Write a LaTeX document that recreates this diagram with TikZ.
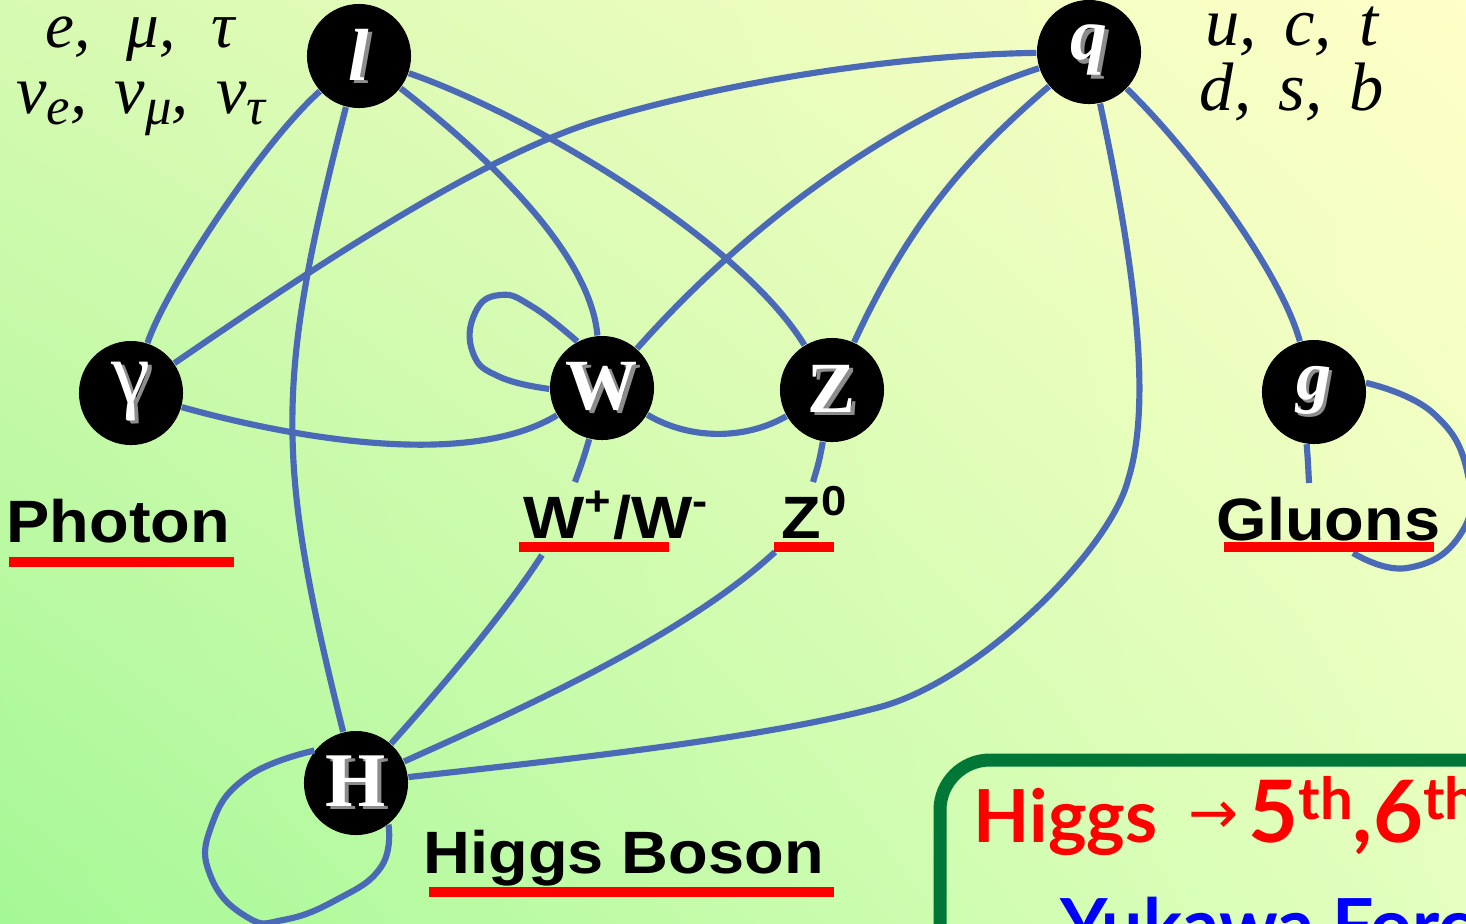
\documentclass[tikz,border=0pt]{standalone}
\usepackage{fontspec}
\usetikzlibrary{shadings}
\setmainfont{Liberation Serif}
\newfontfamily\labelfont{Liberation Sans}
\newfontfamily\boxfont{Lato}
\newfontfamily\arrowfont{DejaVu Sans}

\definecolor{bgUL}{RGB}{215,250,178}
\definecolor{bgUR}{RGB}{255,255,200}
\definecolor{bgLL}{RGB}{165,248,150}
\definecolor{bgLR}{RGB}{228,255,190}
\definecolor{linkblue}{RGB}{74,106,184}
\definecolor{boxgreen}{RGB}{0,118,55}

% white letter with a grey drop shadow
\newcommand{\glyph}[1]{\rlap{\kern1pt\raisebox{-0.9pt}{\textcolor{black!45}{#1}}}\textcolor{white}{#1}}
% lowered index for the neutrino names
\newcommand{\idx}[1]{\raisebox{-3.4pt}{\fontsize{15}{15}\selectfont #1}}

\tikzset{
  particle/.style={circle, fill=black, minimum size=1.04cm, inner sep=0pt},
  link/.style={draw=linkblue, line width=1.75pt},
  tag/.style={anchor=base west, inner sep=0pt, font=\labelfont\bfseries\fontsize{17}{20}\selectfont},
  flavour/.style={anchor=base, inner sep=0pt, text height=0.55em, text depth=0.2em,
                  font=\itshape\fontsize{19.5}{23}\selectfont},
  boxtext/.style={anchor=base west, inner sep=0pt, font=\boxfont\bfseries\fontsize{20.8}{25}\selectfont},
}

\begin{document}
\begin{tikzpicture}[x=0.01cm, y=-0.01cm]
\useasboundingbox (0,0) rectangle (1466,923);
\shade[upper left=bgUL, upper right=bgUR, lower left=bgLL, lower right=bgLR] (0,0) rectangle (1466,923);
\begin{scope}
\clip (0,0) rectangle (1466,923);

% particles
\node[particle] (l)   at (359,56)  {\fontsize{21}{21}\selectfont\bfseries\itshape\glyph{l}};
\node[particle] (q)   at (1089,52) {\fontsize{21}{21}\selectfont\bfseries\itshape\glyph{q}};
\node[particle] (gam) at (131,393) {\fontsize{25}{25}\selectfont\glyph{γ}};
\node[particle] (W)   at (602,388) {\fontsize{20.5}{21}\selectfont\bfseries\glyph{W}};
\node[particle] (Z)   at (832,390) {\fontsize{20.5}{21}\selectfont\bfseries\glyph{Z}};
\node[particle] (g)   at (1314,392){\fontsize{20}{21}\selectfont\bfseries\itshape\glyph{g}};
\node[particle] (H)   at (356,783) {\fontsize{22}{22}\selectfont\bfseries\glyph{H}};

% way points and free ends
\coordinate (gq) at (600,120);
\coordinate (wa) at (575,482);
\coordinate (wb) at (542,555);
\coordinate (za) at (813,482);
\coordinate (zb) at (775,552);
\coordinate (qa) at (1128,480);
\coordinate (qb) at (880,707);
\coordinate (gs) at (1309,483);
\coordinate (gl) at (1353,553);

% couplings
\draw[link] (l) .. controls (260,145) and (165,290) .. (gam);
\draw[link] (l) .. controls (276,380) and (274,456) .. (H);
\draw[link] (l) .. controls (480,150) and (590,250) .. (W);
\draw[link] (l) .. controls (530,115) and (740,240) .. (Z);
\draw[link] (gam) .. controls (310,270) and (480,156) .. (gq) .. controls (730,81) and (900,55) .. (q);
\draw[link] (gam) .. controls (300,440) and (470,468) .. (W);
\draw[link] plot[smooth, tension=0.8] coordinates {(W.118) (533,307) (500,295) (475,313) (473,353) (500,377) (W.181)};
\draw[link] (W) .. controls (760,210) and (910,110) .. (q);
\draw[link] (W) .. controls (690,440) and (745,440) .. (Z);
\draw[link] (W.256) .. controls (583,460) .. (wa);
\draw[link] (wb) .. controls (500,620) and (430,700) .. (H);
\draw[link] (Z.260) .. controls (819,462) .. (za);
\draw[link] (zb) .. controls (685,635) and (530,705) .. (H);
\draw[link] (Z) .. controls (911,219) and (970,154) .. (q);
\draw[link] (q) .. controls (1140,290) and (1150,410) .. (qa)
            .. controls (1110,550) and (980,680) .. (qb)
            .. controls (760,739) and (560,760) .. (H);
\draw[link] (q) .. controls (1190,150) and (1280,270) .. (g);
\draw[link] (g.262) .. controls (1308,462) .. (gs);
\draw[link] plot[smooth, tension=0.8] coordinates {(g.10) (1433,413) (1468,475) (1460,535) (1407,568) (gl)};
\draw[link] plot[smooth, tension=0.8] coordinates {(H.142) (247,777) (211,827) (211,877) (247,917) (283,920) (336,900) (381,867) (H.308)};

% fermion families
\node[flavour, font=\itshape\fontsize{18.5}{22}\selectfont] (lep1) at (140,47)  {e,\hspace{0.55em}μ,\hspace{0.55em}τ};
\node[flavour] (lep2) at (141,113) {ν\idx{e},\hspace{0.4em}ν\idx{μ},\hspace{0.4em}ν\idx{τ}};
\node[flavour] (qk1)  at (1292,45) {u,\hspace{0.4em}c,\hspace{0.4em}t};
\node[flavour] (qk2)  at (1292,110){d,\hspace{0.4em}s,\hspace{0.4em}b};

% boson names
\node[tag] (photon) at (6,542)    {\scalebox{1.085}[1]{Photon}};
\node[tag] (wlab)   at (523,538)  {\scalebox{1.085}[1]{W\textsuperscript{+}/W\textsuperscript{-}}};
\node[tag] (zlab)   at (781,538)  {\scalebox{1.085}[1]{Z\textsuperscript{0}}};
\node[tag] (glab)   at (1216,540) {\scalebox{1.085}[1]{Gluons}};
\node[tag] (hlab)   at (423,873)  {\scalebox{1.085}[1]{Higgs Boson}};

\fill[red] (9,557) rectangle (234,567);
\fill[red] (519,542) rectangle (669,552);
\fill[red] (774,542) rectangle (834,552);
\fill[red] (1224,542) rectangle (1434,552);
\fill[red] (429,887) rectangle (834,897);

% note box
\draw[boxgreen, line width=3.7pt, rounded corners=0.5cm] (940,760) rectangle (1760,1200);
\node[boxtext, text=red] (higgs) at (973,842) {Higgs};
\node[text=red, inner sep=0pt, font=\arrowfont\fontsize{17}{17}\selectfont] (arr) at (1214,818) {→};
\node[boxtext, text=red, font=\boxfont\bfseries\fontsize{24.5}{28}\selectfont] (gen) at (1248,842)
  {5\raisebox{6.3pt}{\fontsize{16.5}{18}\selectfont th},6\raisebox{6.3pt}{\fontsize{16.5}{18}\selectfont th}};
\node[boxtext, text=blue] (yuk) at (1060,951) {Yukawa Force ?};
\end{scope}
\end{tikzpicture}
\end{document}
